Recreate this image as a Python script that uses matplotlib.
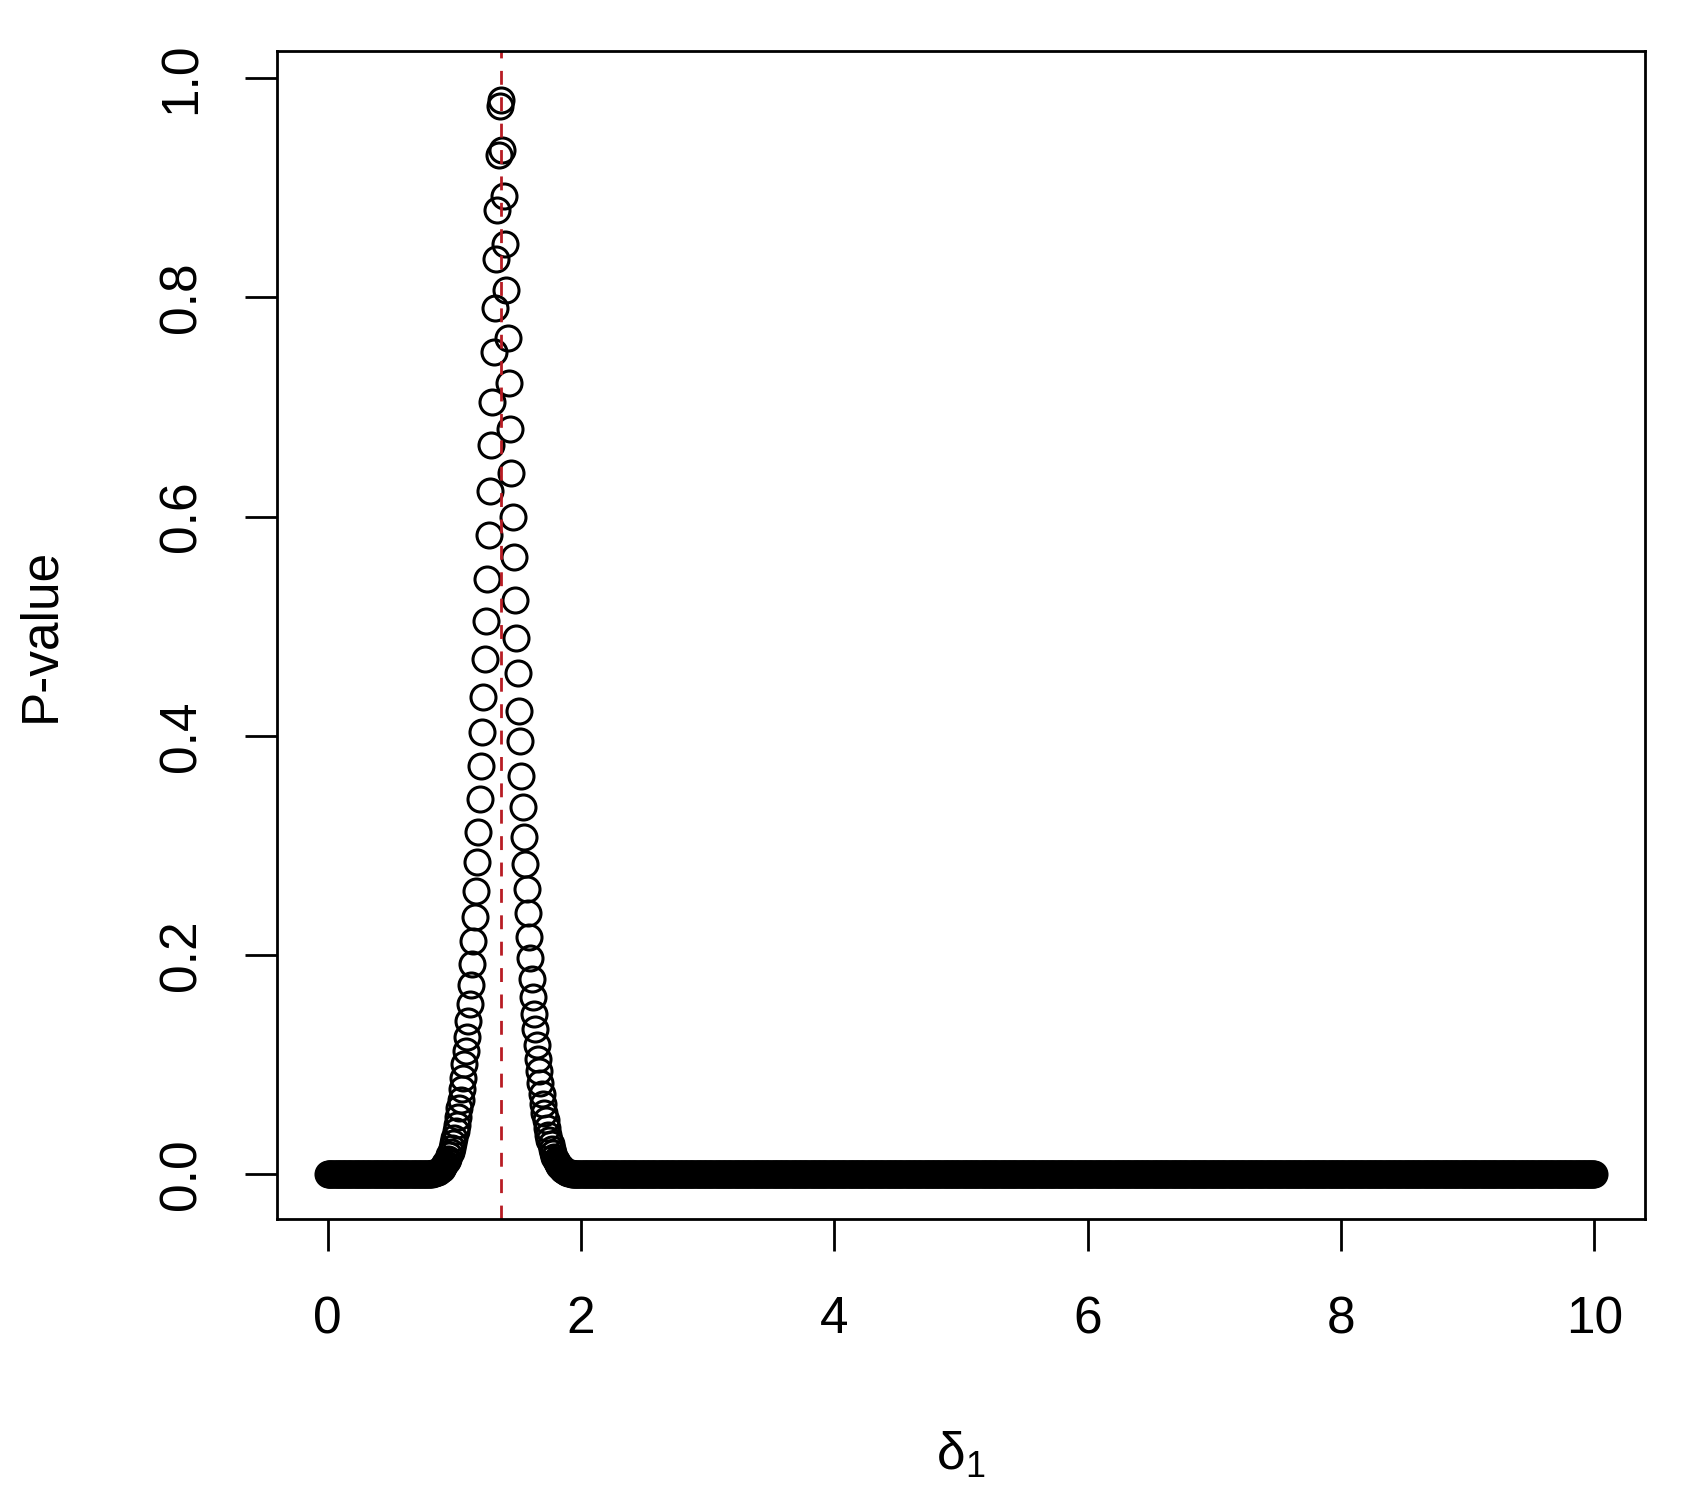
import numpy as np
import matplotlib
matplotlib.use("Agg")
import matplotlib.pyplot as plt

plt.rcParams.update({'font.family': ['Liberation Sans', 'DejaVu Sans'],
                     'mathtext.fontset': 'custom',
                     'mathtext.rm': 'Liberation Sans'})

# grid of delta_1 values (step 0.01 from 0 to 10)
delta = np.round(np.arange(0, 1001) * 0.01, 2)

left_start = 1.36
left_p = [0.975, 0.93, 0.88, 0.835, 0.79, 0.75, 0.705, 0.665, 0.623, 0.583,
          0.543, 0.505, 0.47, 0.435, 0.403, 0.372, 0.342, 0.312, 0.285, 0.258,
          0.235, 0.213, 0.192, 0.173, 0.155, 0.14, 0.125, 0.112, 0.1, 0.088,
          0.078, 0.068, 0.06, 0.052, 0.045, 0.039, 0.033, 0.028, 0.024, 0.02,
          0.017, 0.014, 0.012, 0.01, 0.008, 0.006, 0.005, 0.004, 0.003, 0.002,
          0.002, 0.001, 0.001, 0.001]

# right branch goes up from delta = 1.37
right_start = 1.37
right_p = [0.98, 0.935, 0.893, 0.849, 0.807, 0.763, 0.722, 0.68, 0.64, 0.60,
           0.563, 0.524, 0.489, 0.457, 0.423, 0.395, 0.363, 0.335, 0.308, 0.283,
           0.26, 0.238, 0.216, 0.197, 0.178, 0.162, 0.146, 0.132, 0.118, 0.105,
           0.094, 0.083, 0.073, 0.064, 0.056, 0.049, 0.042, 0.036, 0.031, 0.027,
           0.023, 0.019, 0.016, 0.013, 0.011, 0.009, 0.007, 0.006, 0.005, 0.004,
           0.003, 0.002, 0.002, 0.001, 0.001, 0.001]

# everywhere else the p-value is 0
pvals = np.zeros(len(delta))
i0 = int(round(left_start * 100))
for k, p in enumerate(left_p):
    pvals[i0 - k] = p
i1 = int(round(right_start * 100))
for k, p in enumerate(right_p):
    pvals[i1 + k] = p

# estimate (red dashed line)
delta_hat = 1.365

fig = plt.figure(figsize=(16.92, 14.99), dpi=100)
ax = fig.add_axes([0.1637, 0.1868, 0.9722 - 0.1637, 0.966 - 0.1868])

ax.plot(delta, pvals, linestyle='none', marker='o', markersize=18,
        markerfacecolor='none', markeredgecolor='black', markeredgewidth=2.2)
ax.axvline(delta_hat, color='#b81c24', lw=2.0, dashes=(5, 4.5))

ax.set_xlim(-0.4, 10.4)
ax.set_ylim(-0.041, 1.025)
ax.set_xticks([0, 2, 4, 6, 8, 10])
ax.set_yticks([0.0, 0.2, 0.4, 0.6, 0.8, 1.0])
ax.set_yticklabels(['0.0', '0.2', '0.4', '0.6', '0.8', '1.0'],
                   rotation=90, va='center')

for s in ax.spines.values():
    s.set_linewidth(2.0)
ax.tick_params(axis='both', length=23, width=2.0, labelsize=37)
ax.tick_params(axis='x', pad=32)
ax.tick_params(axis='y', pad=28)

ax.set_xlabel(r'δ$_1$', fontsize=37, labelpad=62)
ax.set_ylabel('P-value', fontsize=37, labelpad=66)

fig.savefig('out.png', dpi=100)
